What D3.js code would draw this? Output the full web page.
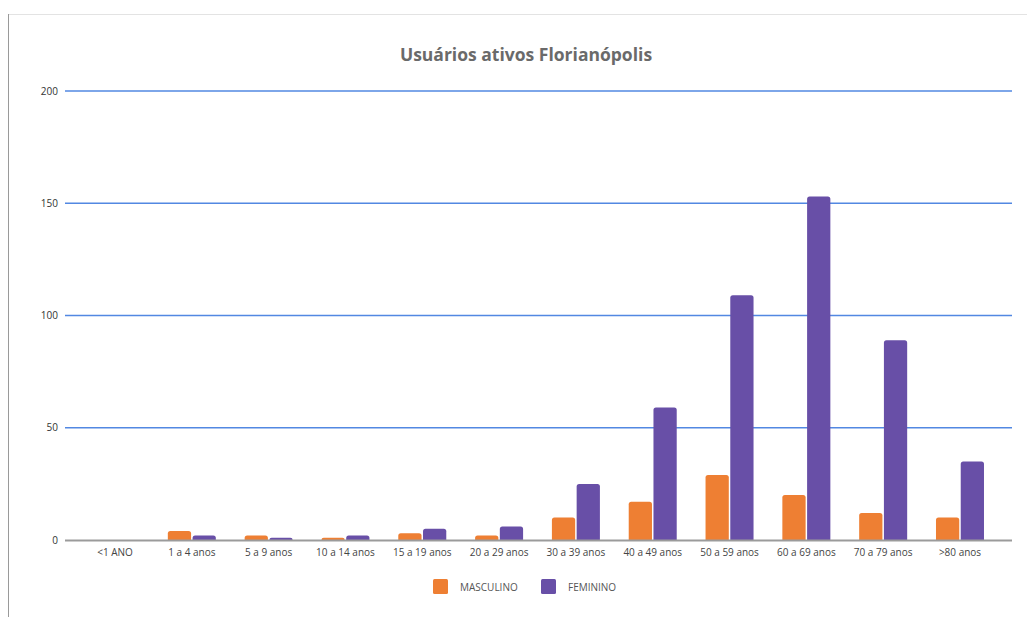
<!DOCTYPE html>
<html>
<head>
<meta charset="utf-8">
<script src="https://cdn.jsdelivr.net/npm/d3@7"></script>
<style>
  body { margin: 0; background: #fff; }
  text { font-family: "Open Sans", sans-serif; }
</style>
</head>
<body>
<svg id="chart" width="1027" height="617"></svg>
<script>
var categories = ['<1 ANO', '1 a 4 anos', '5 a 9 anos', '10 a 14 anos', '15 a 19 anos', '20 a 29 anos',
  '30 a 39 anos', '40 a 49 anos', '50 a 59 anos', '60 a 69 anos', '70 a 79 anos', '>80 anos'];
var masculino = [0, 4, 2, 1, 3, 2, 10, 17, 29, 20, 12, 10];
var feminino = [0, 2, 1, 2, 5, 6, 25, 59, 109, 153, 89, 35];
var seriesNames = ['MASCULINO', 'FEMININO'];
var colors = ['#ee7f33', '#684fa7'];
var yTicks = [0, 50, 100, 150, 200];

var svg = d3.select('#chart');

// frame of the screenshot
svg.append('line').attr('x1', 8).attr('x2', 1027).attr('y1', 14.5).attr('y2', 14.5)
  .attr('stroke', '#e3e3e3');
svg.append('line').attr('x1', 8.5).attr('x2', 8.5).attr('y1', 14).attr('y2', 617)
  .attr('stroke', '#9a9a9a');

svg.append('text')
  .attr('x', 526).attr('y', 61)
  .attr('text-anchor', 'middle')
  .style('font-size', '17.5px')
  .style('font-weight', 'bold')
  .style('fill', '#6a6a6a')
  .text('Usuários ativos Florianópolis');

var y = d3.scaleLinear().domain([0, 200]).range([540, 91]);
var x = d3.scaleBand().domain(categories).range([76.6, 998.4]);
var xs = d3.scaleBand().domain(seriesNames).range([0, 48]).paddingInner(0.06);

// grid lines
svg.append('g').selectAll('line')
  .data(yTicks.filter(function(d) { return d > 0; }))
  .enter().append('line')
  .attr('x1', 65).attr('x2', 1012)
  .attr('y1', function(d) { return y(d); })
  .attr('y2', function(d) { return y(d); })
  .attr('stroke', '#5288e2')
  .attr('stroke-width', 1.3);

var yAxis = svg.append('g')
  .attr('transform', 'translate(58,0)')
  .call(d3.axisLeft(y).tickValues(yTicks).tickSize(0).tickPadding(0));
yAxis.select('.domain').remove();
yAxis.selectAll('text').style('font-size', '10px').style('fill', '#333')
  .style('font-family', '"Open Sans", sans-serif');

var rows = categories.map(function(c, i) {
  return { cat: c, values: [masculino[i], feminino[i]] };
});

function barPath(x0, w, top, bottom) {
  var r = Math.min(2.5, (bottom - top));
  if (bottom - top <= 0) return '';
  return 'M' + x0 + ',' + bottom +
    'V' + (top + r) +
    'Q' + x0 + ',' + top + ' ' + (x0 + r) + ',' + top +
    'H' + (x0 + w - r) +
    'Q' + (x0 + w) + ',' + top + ' ' + (x0 + w) + ',' + (top + r) +
    'V' + bottom + 'Z';
}

var groups = svg.append('g').selectAll('g')
  .data(rows).enter().append('g')
  .attr('transform', function(d) {
    return 'translate(' + (x(d.cat) + x.bandwidth() / 2 - 24) + ',0)';
  });

groups.selectAll('path')
  .data(function(d) { return d.values.map(function(v, i) { return { s: seriesNames[i], v: v, i: i }; }); })
  .enter().append('path')
  .attr('d', function(d) { return barPath(xs(d.s), xs.bandwidth(), y(d.v), y(0)); })
  .attr('fill', function(d) { return colors[d.i]; });

// baseline
svg.append('line').attr('x1', 65).attr('x2', 1012)
  .attr('y1', y(0) + 0.5).attr('y2', y(0) + 0.5)
  .attr('stroke', '#9b9b9b').attr('stroke-width', 2);

var xAxis = svg.append('g')
  .attr('transform', 'translate(0,' + (y(0) + 1) + ')')
  .call(d3.axisBottom(x).tickSize(0).tickPadding(8));
xAxis.select('.domain').remove();
xAxis.selectAll('text').style('font-size', '10px').style('fill', '#444')
  .style('font-family', '"Open Sans", sans-serif');

// legend
var legend = svg.append('g').selectAll('g')
  .data(seriesNames).enter().append('g')
  .attr('transform', function(d, i) { return 'translate(' + [433, 541][i] + ',579)'; });
legend.append('rect').attr('width', 15).attr('height', 15).attr('rx', 1.5)
  .attr('fill', function(d, i) { return colors[i]; });
legend.append('text').attr('x', 27).attr('y', 11.5)
  .style('font-size', '10px').style('fill', '#555')
  .text(function(d) { return d; });
</script>
</body>
</html>
